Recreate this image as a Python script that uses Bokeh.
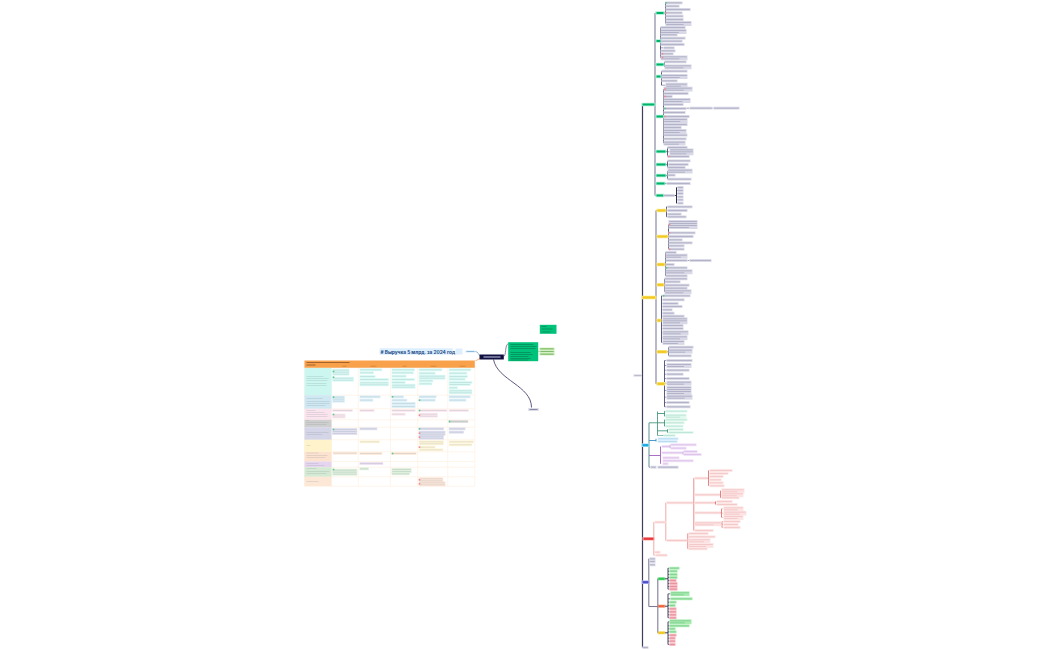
from bokeh.plotting import figure
from bokeh.models import ColumnDataSource, Range1d
from bokeh.core.properties import value
from bokeh.embed import file_html
from bokeh.resources import INLINE

# Карта: значения (x0, x1, y, число строк)
title_text = "Выручка 5 млрд. за 2024 год."

# --- зелёная ветка ---
green_main = (642, 654, 104)
green_nodes = [(656, 663, 12.5), (656, 661, 40.5), (656, 663, 64), (656, 660, 76), (656, 663, 116),
               (656, 665, 151), (656, 665, 164), (656, 665, 175), (656, 664, 183), (656, 663, 195)]
green_spines = [665, 660, 664, 661, 663, 667, 667, 667, 666, 664]
green_leaves = [
    [(665, 682, 2.3, 1), (665, 679, 5.7, 1), (665, 690, 9, 1), (665, 682, 12.3, 1), (665, 683, 15.7, 1), (665, 683, 19, 1), (665, 691, 23, 2)],
    [(660, 685, 27, 1), (660, 686, 31, 2), (660, 677, 34.3, 1), (660, 685, 37.7, 1), (660, 682, 40.7, 1), (660, 684, 44, 1), (663, 674, 47.3, 1), (660, 675, 50.3, 1), (660, 673, 53.3, 1), (660, 687, 57.3, 2)],
    [(664, 686, 61.3, 1), (664, 691, 66.3, 2)],
    [(661, 687, 70.7, 1), (661, 687, 76, 2), (661, 677, 80.3, 1), (665, 687, 84.7, 2)],
    [(663, 692, 88.7, 2), (663, 688, 93, 1), (663, 672, 96, 1), (663, 690, 100, 2), (663, 683, 104, 1), (663, 686, 108, 1), (663, 685, 112, 1), (663, 689, 116, 1), (663, 687, 120, 2), (663, 687, 124, 1), (663, 681, 127, 1), (663, 686, 131, 2), (663, 687, 134.7, 1), (663, 686, 138.3, 1), (663, 685, 142.7, 2)],
    [(667, 687, 147, 1), (669, 693, 151.3, 3), (667, 689, 156, 1)],
    [(667, 690, 160.3, 1), (668, 688, 164, 1), (667, 685, 167, 1)],
    [(667, 692, 170.7, 2), (667, 675, 174.7, 1), (667, 691, 178.7, 1)],
    [(666, 690, 183, 1)],
    [(663, 674, 195, 1)],
]
green_sub = [(676, 195, [(677, 683, 187, 1), (677, 683, 190, 1), (677, 683, 193, 1), (677, 683, 196.3, 1), (677, 683, 199.3, 1), (677, 683, 202.7, 1)])]
green_far = [(689, 712, 107.7, 1), (713, 739, 107.7, 1)]

# --- жёлтая ветка ---
yellow_main = (642, 655, 297)
yellow_nodes = [(657, 665, 210), (657, 667, 236), (657, 664, 264), (657, 663, 284.3), (657, 660, 320), (657, 666, 351.3), (657, 664, 383.3)]
yellow_spines = [666, 668, 665, 664, 661, 668, 664]
yellow_leaves = [
    [(667, 692, 206.3, 1), (667, 687, 210, 1), (667, 681, 213.7, 1), (667, 686, 216.3, 1)],
    [(668, 697, 224, 4), (668, 695, 232.3, 1), (668, 693, 236, 1), (668, 682, 239.3, 1), (668, 692, 242.3, 1), (668, 684, 245.3, 1), (668, 684, 248.7, 1)],
    [(665, 676, 252, 1), (665, 687, 255.7, 2), (665, 687, 260, 1), (665, 674, 264, 1), (665, 687, 267.3, 1), (665, 692, 271.3, 2), (665, 687, 275.3, 1)],
    [(664, 687, 278.3, 1), (664, 680, 281.3, 1), (664, 689, 284.7, 1), (664, 687, 287.7, 1), (664, 691, 291.3, 2)],
    [(662, 690, 295.3, 1), (662, 684, 299.3, 1), (662, 678, 303, 1), (662, 682, 306, 1), (662, 672, 309.3, 1), (662, 674, 312.7, 1), (662, 684, 315.7, 1), (662, 687, 320.3, 3), (662, 683, 325, 1), (662, 683, 328, 1), (662, 688, 332.3, 2), (662, 687, 337.3, 2), (662, 684, 342, 2)],
    [(668, 693, 346.7, 1), (668, 692, 350.7, 2), (668, 691, 355.3, 1)],
    [(666, 692, 360, 1), (666, 691, 365, 2), (666, 689, 369.7, 1), (666, 683, 373.7, 1), (666, 689, 378, 1), (666, 691, 382.7, 2), (666, 691, 390, 4), (666, 692, 396.7, 2), (666, 689, 402, 1), (666, 690, 406.3, 1)],
]
yellow_far = [(689, 711, 260, 1)]

# --- голубая ветка ---
blue_main = (642, 648, 444.7)
teal_leaves = [(665, 687, 410.7, 1), (665, 686, 415.7, 2), (665, 687, 419.3, 1), (665, 684, 422.3, 1), (665, 683, 425.7, 1), (668, 683, 429, 1), (668, 693, 432, 1), (663, 675, 435, 1)]
teal_hubs = [(664, 413), (664, 422.3), (667, 430.3)]
sky_leaves = [(657, 678, 438.3, 1), (657, 677, 441, 1)]
purple_leaves = [(661, 669, 446, 1), (661, 682, 452.3, 1), (662, 679, 457.3, 1), (662, 693, 460.3, 1), (662, 668, 463.3, 1)]
purple_far = [(670, 696, 444.3, 1), (670, 686, 447.7, 1), (683, 697, 451, 1), (683, 701, 454, 1)]
gray_leaf = [(650, 656, 466.7, 1), (657, 678, 466.7, 1)]

# --- красная ветка ---
red_main = (643, 653, 538.3)
red_top = [(654, 665, 521.7, 1), (654, 660, 551.7, 1), (655, 667, 554.7, 1)]
red_mid = [(666, 692.7, 502.3, 1), (666, 687, 540, 1)]
red_third = [(694, 707, 477.7, 1), (694, 719, 494.3, 1), (694, 714, 502.3, 1), (694, 720, 512.3, 1), (694, 721, 523.3, 2), (694, 713, 530, 1)]
red_groups = [
    (708, 477.7, [(709, 732, 470, 1), (709, 728, 473, 1), (709, 723, 476, 1), (709, 721, 479.3, 1), (709, 723, 482.3, 1), (709, 724, 485.3, 1)]),
    (720, 494.3, [(721, 744, 490.3, 2), (721, 743, 494.3, 2), (721, 739, 497.3, 1)]),
    (715, 502.3, [(716, 732, 501, 1), (716, 737, 504, 1)]),
    (721, 512.3, [(723, 743, 508.3, 2), (723, 746, 512.7, 2), (723, 743, 517, 2)]),
    (721.5, 523.3, [(723, 740, 521, 1), (723, 738, 524, 1), (723, 740, 527, 1)]),
    (687.3, 540, [(688, 708, 533, 1), (688, 715, 536.3, 1), (688, 710, 540.3, 2), (688, 713, 545, 2), (688, 707, 548.3, 1)]),
]

# --- синяя ветка ---
indigo_main = (642, 648, 581.7)
indigo_top = [(649, 655, 558.3, 1), (649, 655, 561, 1), (649, 655, 564.3, 1)]
indigo_groups = [
    ((658, 664, 578.3), "#2ecc50", 667.5,
     [(669, 679, 567.7, 1), (669, 677, 570.7, 1), (669, 677, 574, 1), (669, 677, 577, 1)],
     [(669, 676, 580, 1), (669, 677, 583, 1), (669, 677, 586, 1), (669, 677, 588.7, 1)]),
    ((658, 664, 605.7), "#f0653a", 667.5,
     [(670, 689, 593.3, 2), (670, 692, 598.3, 1), (669, 676, 601.7, 1), (669, 675, 605, 1)],
     [(669, 676, 608.3, 1), (669, 676, 611.3, 1), (669, 676, 614.3, 1), (669, 676, 617.3, 1)]),
    ((658, 664, 632.3), "#f0c820", 667.5,
     [(669, 691, 621.3, 2), (669, 689, 625.3, 1), (669, 675, 628.3, 1), (669, 676, 631.3, 1)],
     [(669, 676, 634.7, 1), (669, 675, 637.7, 1), (669, 675, 640.7, 1), (669, 675, 644, 1)]),
]

# --- значки у пунктов ---
pink_icons_x = [665.5, 662, 662, 664.5, 664.5, 664.5, 668.5, 669, 669, 669, 419, 419, 419, 419, 419, 419]
pink_icons_y = [12.3, 53.3, 57, 88.7, 96, 116, 156, 224, 232.3, 248.7, 414.7, 432.7, 436.7, 446.7, 479.3, 483.3]
green_icons_x = [665.5, 664.5, 666, 663, 419, 419, 392, 419, 449, 392, 333, 333, 333, 333, 333, 333]
green_icons_y = [2.3, 108, 267.3, 295.3, 410, 428.3, 396.3, 399.7, 421, 453, 371, 376.7, 396.7, 414, 429, 469]

# --- таблица слева ---
col_edges = [304, 331, 357.7, 390, 417.3, 447.3, 474.3]
row_edges = [367.3, 394.7, 408.3, 419.3, 426.7, 439.3, 451.3, 461, 466.7, 476.3, 485.7]
row_colors = ["#ccf7f0", "#cfe8f2", "#fce4ee", "#cfcfcf", "#d5d5e8", "#fff3cc", "#fde3cf", "#e6d5f0", "#d5ead5", "#fde8d8"]
row_chips = [
    [(331.7, 349, 371.7, 3), (331.7, 353.3, 378.7, 2), (359, 381.7, 369.3, 1), (359, 373.3, 372.3, 1), (359, 375, 376, 1), (359, 388.3, 379, 1), (359, 388.3, 383.3, 2),
     (391, 414.3, 369.3, 1), (391, 413.3, 372.3, 1), (391, 406, 375.7, 1), (391, 414.3, 379, 1), (391, 405, 382, 1), (391, 415, 385.7, 2),
     (418.3, 441.7, 369.3, 1), (418.3, 435, 372.7, 1), (418.3, 445, 376.7, 2), (418.3, 432.7, 380.3, 1), (418.3, 431.7, 383.3, 1),
     (448.3, 470.7, 369.3, 1), (448.3, 466.7, 372.7, 1), (448.3, 467.3, 376, 1), (448.3, 465, 378.7, 1), (448.3, 471.7, 382, 1), (448.3, 470, 384, 1), (448.3, 457.3, 387.3, 1), (448.3, 471.7, 391.3, 2)],
    [(331.7, 344.3, 398.7, 3), (359, 380, 396.3, 1), (359, 372.7, 399.7, 1), (391, 403.3, 396.3, 1), (391, 406.7, 399.7, 1), (391, 415, 403, 1), (391, 415, 406, 1), (418.3, 436, 396.3, 1), (418.3, 435, 399.7, 1), (448.3, 470, 396.3, 1), (448.3, 465.7, 399.7, 1)],
    [(331.7, 352.3, 410, 1), (331.7, 345, 415.5, 2), (359, 374, 410, 1), (391, 415, 410, 1), (391, 405, 413.7, 1), (418.3, 446.7, 410, 1), (418.3, 437.3, 414.7, 2), (448.3, 468.3, 410, 1)],
    [(448.3, 467.7, 421, 1)],
    [(331.7, 356.7, 431, 3), (359, 376.7, 428.3, 1), (418.3, 443.3, 428.3, 1), (418.3, 445, 432.7, 2), (418.3, 443.3, 436.7, 2), (448.3, 465, 428.3, 1), (448.3, 463.3, 431.7, 1)],
    [(359, 379.3, 441.3, 1), (418.3, 443.3, 442.3, 2), (418.3, 435, 446.7, 1), (418.3, 442.7, 449.3, 1), (448.3, 473.3, 441.3, 1), (448.3, 471.7, 444.3, 1)],
    [(332.3, 356.7, 452.7, 1), (359, 381.7, 453, 1), (391, 416, 453, 1)],
    [(359, 382.7, 463, 1)],
    [(331.7, 356.7, 471.7, 3), (359, 368.3, 468.3, 1), (391, 411, 470, 2), (391, 409.3, 473.3, 1)],
    [(418.3, 442.7, 479.3, 2), (418.3, 445, 483.3, 2)],
]
chip_colors = ["#d8faf5", "#dbf0f8", "#fce8f0", "#dcdcdc", "#e0e0f0", "#fff6d8", "#fde9da", "#ecdff4", "#dff0dd", "#fde7da"]
first_col_lines = [(306, 323, 376), (306, 328, 378), (306, 327, 380), (306, 326, 383), (306, 326, 385), (306, 322, 398), (306, 329, 401), (306, 329, 403), (306, 325, 405),
                   (306, 315, 410), (306, 324, 412), (306, 327, 414), (306, 327, 416), (306, 308, 420), (306, 328, 422), (306, 326, 424), (306, 328, 432), (306, 322, 434),
                   (306, 310, 445), (306, 318, 452.5), (306, 327, 455), (306, 325, 457), (306, 318, 463), (306, 324, 465), (306, 316, 468), (306, 329, 471), (306, 326, 473), (306, 318, 481)]

p = figure(width=1050, height=650, x_range=Range1d(0, 1050), y_range=Range1d(650, 0),
           x_axis_location=None, y_axis_location=None, toolbar_location=None, output_backend="svg",
           min_border=0, outline_line_color=None, background_fill_color="white")
p.grid.visible = False

conn = {"x0": [], "x1": [], "y0": [], "y1": [], "color": [], "w": []}
boxes = {"l": [], "r": [], "t": [], "b": [], "color": []}
halos = {"l": [], "r": [], "t": [], "b": [], "color": []}
smear = {"x0": [], "x1": [], "y": [], "color": []}
table_smear = {"x0": [], "x1": [], "y": []}


def link(x0, y0, x1, y1, color, w=0.8):
    conn["x0"].append(x0); conn["x1"].append(x1); conn["y0"].append(y0); conn["y1"].append(y1)
    conn["color"].append(color); conn["w"].append(w)


def box(x0, x1, y, lines=1, color="#d8d8e6", text="#66668c"):
    h = 2.0 * lines + 0.8
    boxes["l"].append(x0); boxes["r"].append(x1); boxes["t"].append(y - h / 2); boxes["b"].append(y + h / 2)
    boxes["color"].append(color)
    for i in range(lines):
        last = i == lines - 1 and lines > 1
        smear["x0"].append(x0 + 0.7); smear["x1"].append(x0 + (x1 - x0) * 0.7 if last else x1 - 0.7)
        smear["y"].append(y - h / 2 + 1.4 + i * 2.0); smear["color"].append(text)


def chip(x0, x1, y, lines, color):
    h = 2.0 * lines + 0.8
    boxes["l"].append(x0); boxes["r"].append(x1); boxes["t"].append(y - h / 2); boxes["b"].append(y + h / 2)
    boxes["color"].append(color)
    for i in range(lines):
        table_smear["x0"].append(x0 + 0.7); table_smear["x1"].append(x1 - 0.7)
        table_smear["y"].append(y - h / 2 + 1.4 + i * 2.0)


def node(x0, x1, y, color, halo):
    halos["l"].append(x0 - 1); halos["r"].append(x1 + 1); halos["t"].append(y - 1.8); halos["b"].append(y + 1.8)
    halos["color"].append(halo)
    boxes["l"].append(x0); boxes["r"].append(x1); boxes["t"].append(y - 1.1); boxes["b"].append(y + 1.1)
    boxes["color"].append(color)


def branch(px, py, sx, leaves, line="#5c5c80", color="#d8d8e6", text="#66668c"):
    ys = [l[2] for l in leaves] + [py]
    link(px, py, sx, py, line, 0.9)
    link(sx, min(ys), sx, max(ys), line, 1.0)
    for x0, x1, y, n in leaves:
        link(sx, y, x0, y, line, 0.6)
        box(x0, x1, y, n, color, text)


# ствол справа
link(642, 104, 642, 647, "#3d3d5c", 1.2)
box(633, 641, 375, 1, "#e4e4ec")
link(641, 375, 642, 375, "#3d3d5c")
box(642, 648, 647, 1, "#d8d8e6")

# зелёная ветка
link(654.5, 12.5, 654.5, 195, "#9a9ab2", 1.4)
link(642, 104, 654.5, 104, "#9a9ab2", 1.2)
node(*green_main, "#00b36b", "#a8f0d5")
for nd, sx, leaves in zip(green_nodes, green_spines, green_leaves):
    link(654.5, nd[2], nd[0], nd[2], "#9a9ab2", 1.0)
    node(*nd, "#00b36b", "#a8f0d5")
    branch(nd[1], nd[2], sx, leaves)
for sx, py, leaves in green_sub:
    branch(674, py, sx, leaves, line="#2a2a4a")
link(686, 107.7, 689, 107.7, "#5c5c80", 0.6)
link(712, 107.7, 713, 107.7, "#5c5c80", 0.6)
for x0, x1, y, n in green_far:
    box(x0, x1, y, n)

# жёлтая ветка
link(655.5, 210, 655.5, 383.3, "#9a9ab2", 1.4)
link(642, 297, 655.5, 297, "#9a9ab2", 1.2)
node(*yellow_main, "#f0c820", "#fbe88a")
for nd, sx, leaves in zip(yellow_nodes, yellow_spines, yellow_leaves):
    link(655.5, nd[2], nd[0], nd[2], "#9a9ab2", 1.0)
    node(*nd, "#f0c820", "#fbe88a")
    branch(nd[1], nd[2], sx, leaves)
link(687, 260, 689, 260, "#5c5c80", 0.6)
for x0, x1, y, n in yellow_far:
    box(x0, x1, y, n)

# голубая ветка
node(*blue_main, "#18a8e0", "#a6e2f8")
link(648.5, 422.3, 648.5, 466.7, "#5f8f90", 1.0)
link(648.5, 422.3, 657, 422.3, "#4f9a80", 0.9)
link(657, 411, 657, 435, "#4f9a80", 0.9)
for hx, hy in teal_hubs:
    link(657, hy, hx, hy, "#2f8a70", 0.8)
link(664, 410.7, 664, 415.7, "#2f8a70", 0.8)
link(664, 419.3, 664, 425.7, "#2f8a70", 0.8)
link(667, 429, 667, 432, "#2f8a70", 0.8)
link(657, 435, 663, 435, "#4f9a80", 0.6)
for x0, x1, y, n in teal_leaves:
    link(x0 - 1, y, x0, y, "#2f8a70", 0.5)
    box(x0, x1, y, n, "#e0f9ee", "#7fc0a8")
link(648.5, 440, 655.5, 440, "#3a8fc8", 0.9)
link(655.5, 438.3, 655.5, 441, "#3a8fc8", 0.9)
for x0, x1, y, n in sky_leaves:
    box(x0, x1, y, n, "#dcf0fc", "#70b0dc")
link(648.5, 455, 660, 455, "#a060c0", 0.9)
link(660, 446, 660, 463.3, "#a060c0", 0.9)
link(669, 446, 669.5, 446, "#a060c0", 0.8)
link(669.5, 444.3, 669.5, 447.7, "#a060c0", 0.8)
link(682, 452.3, 682.5, 452.3, "#a060c0", 0.8)
link(682.5, 451, 682.5, 454, "#a060c0", 0.8)
for x0, x1, y, n in purple_leaves + purple_far:
    box(x0, x1, y, n, "#f0e0f7", "#b888d0")
link(648.5, 466.7, 650, 466.7, "#8a8aa8", 0.9)
for x0, x1, y, n in gray_leaf:
    box(x0, x1, y, n)

# красная ветка
node(*red_main, "#e8383c", "#fbb4b4")
link(653.3, 521.7, 653.3, 554.7, "#f0a0a0", 0.9)
for x0, x1, y, n in red_top:
    link(653.3, y, x0, y, "#f0a0a0", 0.7)
    box(x0, x1, y, n, "#fde4e4", "#e09090")
link(665.3, 502.3, 665.3, 540, "#f0a0a0", 0.9)
for x0, x1, y, n in red_mid:
    link(665.3, y, x0, y, "#f0a0a0", 0.7)
    box(x0, x1, y, n, "#fde4e4", "#e09090")
link(693.3, 477.7, 693.3, 530, "#e88080", 0.9)
link(692.7, 502.3, 693.3, 502.3, "#e88080", 0.9)
for x0, x1, y, n in red_third:
    link(693.3, y, x0, y, "#f0a0a0", 0.7)
    box(x0, x1, y, n, "#fde4e4", "#e09090")
for sx, py, leaves in red_groups:
    ys = [l[2] for l in leaves]
    link(sx - 1.5, py, sx, py, "#e06060", 0.8)
    link(sx, min(ys), sx, max(ys), "#e06060", 0.8)
    for x0, x1, y, n in leaves:
        link(sx, y, x0, y, "#f0a0a0", 0.6)
        box(x0, x1, y, n, "#fde4e4", "#e09090")

# синяя ветка
node(*indigo_main, "#5050c8", "#b4b4f0")
link(648.3, 558.3, 648.3, 606, "#7c7c98", 1.1)
for x0, x1, y, n in indigo_top:
    link(648.3, y, x0, y, "#7c7c98", 0.6)
    box(x0, x1, y, n)
link(648.3, 606, 657.3, 606, "#7c7c98", 1.1)
link(657.3, 578.3, 657.3, 632.3, "#7c7c98", 1.1)
for nd, col, sx, good, bad in indigo_groups:
    link(657.3, nd[2], nd[0], nd[2], "#7c7c98", 1.0)
    node(*nd, col, col + "55")
    link(nd[1], nd[2], sx, nd[2], "#2a2a4a", 0.9)
    link(sx, good[0][2], sx, bad[-1][2], "#2a2a4a", 0.9)
    for x0, x1, y, n in good:
        link(sx, y, x0, y, "#2a2a4a", 0.6)
        box(x0, x1, y, n, "#a8ecb0", "#3f9a5a")
    for x0, x1, y, n in bad:
        link(sx, y, x0, y, "#2a2a4a", 0.6)
        box(x0, x1, y, n, "#f8b4bc", "#c05060")

# таблица
for (top, bottom), color in zip(zip(row_edges[:-1], row_edges[1:]), row_colors):
    boxes["l"].append(col_edges[0]); boxes["r"].append(col_edges[1]); boxes["t"].append(top); boxes["b"].append(bottom)
    boxes["color"].append(color)
for chips, color in zip(row_chips, chip_colors):
    for x0, x1, y, n in chips:
        chip(x0, x1, y, n, color)
for x0, x1, y in first_col_lines:
    table_smear["x0"].append(x0); table_smear["x1"].append(x1); table_smear["y"].append(y)
for x in col_edges:
    link(x, 360, x, row_edges[-1], "#feeede", 0.6)
for y in row_edges:
    link(col_edges[0], y, col_edges[-1], y, "#feeede", 0.6)

p.segment("x0", "y0", "x1", "y1", source=ColumnDataSource(conn), line_color="color", line_width="w")
p.quad(left="l", right="r", top="t", bottom="b", source=ColumnDataSource(halos), fill_color="color", line_color=None)
p.quad(left="l", right="r", top="t", bottom="b", source=ColumnDataSource(boxes), fill_color="color", line_color=None)
p.quad(left=[304], right=[474.3], top=[360], bottom=[367.3], fill_color="#f9a04a", line_color=None)
p.segment(x0=[306, 306], x1=[349, 315], y0=[362, 364.5], y1=[362, 364.5], line_color="#7a4a20", line_width=0.7)
p.segment(x0=[342, 370, 402, 430, 459], x1=[346, 376, 406, 436, 465], y0=[365.7] * 5, y1=[365.7] * 5, line_color="#c47a30", line_width=0.6)
p.segment("x0", "y", "x1", "y", source=ColumnDataSource(smear), line_color="color", line_width=0.6, line_alpha=0.55)
p.segment("x0", "y", "x1", "y", source=ColumnDataSource(table_smear), line_color="#7a8a90", line_width=0.5, line_alpha=0.4)
p.rect(x=pink_icons_x, y=pink_icons_y, width=1.6, height=1.6, fill_color="#f08a90", line_color=None)
p.rect(x=green_icons_x, y=green_icons_y, width=1.6, height=1.6, fill_color="#5cc88a", line_color=None)

# центр
p.quad(left=[379], right=[452.3], top=[347.7], bottom=[354.3], fill_color="#dcefff", line_color=None)
p.text(x=[380], y=[351], text=["# " + title_text], text_font=value("Inter"), text_font_size="4.8px", text_color="#1f4a86",
       text_baseline="middle", text_font_style="bold")
p.quad(left=[455, 465], right=[462, 475], top=[348, 349.8], bottom=[354, 352.2], fill_color="#dcefff", line_color=None)
p.segment(x0=[466], x1=[474], y0=[351], y1=[351], line_color="#6aa0c8", line_width=0.7)
p.bezier(x0=[475], y0=[351], x1=[480], y1=[356], cx0=[478], cy0=[351], cx1=[478], cy1=[355], line_color="#6a9ab8", line_width=0.7)
p.bezier(x0=[475], y0=[360], x1=[480], y1=[358], cx0=[477], cy0=[360], cx1=[478], cy1=[358], line_color="#f9a04a", line_width=0.8)
p.bezier(x0=[503], y0=[356], x1=[508], y1=[343], cx0=[506], cy0=[356], cx1=[504], cy1=[344], line_color="#6a6a90", line_width=0.8)
p.bezier(x0=[493], y0=[359], x1=[531], y1=[407], cx0=[497], cy0=[380], cx1=[531], cy1=[385], line_color="#5a5a80", line_width=1.0)
p.quad(left=[479], right=[503.3], top=[354], bottom=[359], fill_color="#101040", line_color=None)
p.segment(x0=[483], x1=[500], y0=[356.5], y1=[356.5], line_color="#c8c8e8", line_width=1.0)
p.quad(left=[507.7, 539.3], right=[537.7, 556], top=[341.7, 324.3], bottom=[360.7, 333.3], fill_color="#00c27a", line_color=None)
p.segment(x0=[510, 510, 510, 510, 510, 510, 510, 510, 541, 541, 541], x1=[533, 536, 535, 530, 532, 528, 530, 528, 546, 552, 550],
          y0=[344, 346, 348, 352, 354, 356, 358, 359.5, 326, 328.5, 331.5], y1=[344, 346, 348, 352, 354, 356, 358, 359.5, 326, 328.5, 331.5],
          line_color="#0a5a3a", line_width=0.5, line_alpha=0.8)
p.quad(left=[539, 539, 539], right=[554, 554, 554], top=[347.2, 349.9, 352.6], bottom=[349.4, 352.1, 354.8], fill_color="#b8e6a0", line_color=None)
p.segment(x0=[540, 540, 540], x1=[553, 553, 553], y0=[348.3, 351, 353.7], y1=[348.3, 351, 353.7], line_color="#5f9a50", line_width=0.6)
p.segment(x0=[537.7], x1=[539], y0=[351], y1=[351], line_color="#8fc070", line_width=0.8)
p.quad(left=[527.7], right=[538.3], top=[407.5], bottom=[410.5], fill_color="#dcdce6", line_color=None)
p.segment(x0=[529], x1=[537], y0=[409], y1=[409], line_color="#66668c", line_width=0.7)

open("out.html", "w").write(file_html(p, INLINE))
